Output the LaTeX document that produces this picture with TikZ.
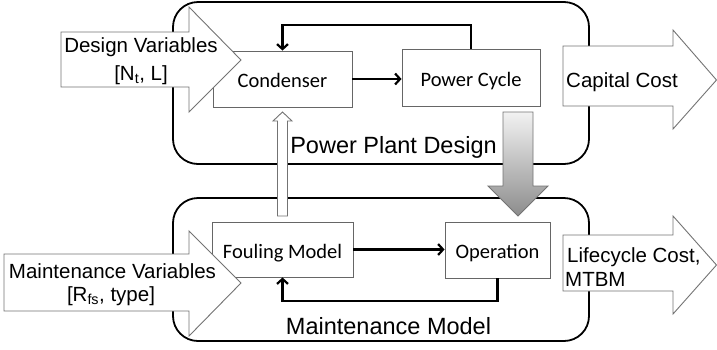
\documentclass[tikz,border=0pt]{standalone}
\usepackage{fontspec}
\setmainfont{Liberation Sans}
\newfontfamily\boxfont{Carlito}
\usetikzlibrary{arrows.meta}

\begin{document}
\begin{tikzpicture}[x=1pt,y=-1pt,
  group/.style={draw=black, line width=1.8pt, rounded corners=25pt,
    minimum width=416pt, inner sep=0pt},
  block/.style={draw=black!60, line width=0.9pt, fill=white, inner sep=0pt,
    text height=17pt, text depth=0pt,
    font=\boxfont\fontsize{20.5}{24}\selectfont},
  flow/.style={line width=2.2pt, -{Straight Barb[length=5pt,width=11pt]}},
  bigarrow/.style={draw=black!55, line width=0.9pt, fill=white, line join=miter},
  lbl/.style={font=\fontsize{20.5}{24}\selectfont, inner sep=0pt, anchor=base},
  title/.style={font=\fontsize{23.5}{28}\selectfont, inner sep=0pt, anchor=base}
]
\useasboundingbox (0,0) rectangle (717,349);

% the two subsystem groups
\node[group, minimum height=162pt] (plant) at (381,83) {};
\node[group, minimum height=143pt] (maint) at (381,269.5) {};

% blocks
\node[block, minimum width=139pt, minimum height=56pt] (cond)  at (282.5,79)    {Condenser};
\node[block, minimum width=138pt, minimum height=57pt] (cycle) at (471,77.5)    {Power Cycle};
\node[block, minimum width=141pt, minimum height=55pt] (foul)  at (282.5,249.5) {Fouling Model};
\node[block, minimum width=105pt, minimum height=56pt] (oper)  at (497.5,250)   {Operation};

% feedback loops
\coordinate (fbtop) at (0,25);
\coordinate (fbbot) at (0,301);
\draw[flow] (cond.east) -- (cond.east -| cycle.west);
\draw[flow] (cycle.north) -- (cycle.north |- fbtop) -| (cond.north);
\draw[flow] (foul.east) -- (foul.east -| oper.west);
\draw[flow] (oper.south) -- (oper.south |- fbbot) -| (foul.south);

% input and output block arrows
\path[bigarrow] (61,32) -- (189,32) -- (189,7) -- (241,60) -- (189,112) -- (189,87) -- (61,87) -- cycle;
\path[bigarrow] (4,254) -- (189,254) -- (189,231) -- (241,283) -- (189,336) -- (189,311) -- (4,311) -- cycle;
\path[bigarrow] (563,46) -- (673,46) -- (673,30) -- (716.5,80) -- (673,129) -- (673,106) -- (563,106) -- cycle;
\path[bigarrow] (563,235) -- (673,235) -- (673,216) -- (716.5,265) -- (673,314) -- (673,291) -- (563,291) -- cycle;

% coupling arrows between the groups
\path[bigarrow] (277.5,216) -- (277.5,121) -- (273,121) -- (282.5,112) -- (292,121)
  -- (287.5,121) -- (287.5,216) -- cycle;
\path[draw=black!55, line width=0.9pt, top color=black!5, bottom color=black!45]
  (503,112) -- (533,112) -- (533,186) -- (548,186) -- (518,216) -- (488,186) -- (503,186) -- cycle;

% labels
\node[lbl] (dv1) at (141,52) {Design Variables};
\node[lbl] (dv2) at (141,80) {[N\textsubscript{t}, L]};
\node[lbl] (mv1) at (112.5,278) {Maintenance Variables};
\node[lbl] (mv2) at (111,301) {[R\textsubscript{fs}, type]};
\node[lbl, anchor=base west] (cap) at (566,87) {Capital Cost};
\node[lbl, anchor=base west] (lc1) at (567,262) {Lifecycle Cost,};
\node[lbl, anchor=base west] (lc2) at (565,286) {MTBM};
\node[title] (tplant) at (393.5,153) {Power Plant Design};
\node[title] (tmaint) at (388.5,334) {Maintenance Model};
\end{tikzpicture}
\end{document}
